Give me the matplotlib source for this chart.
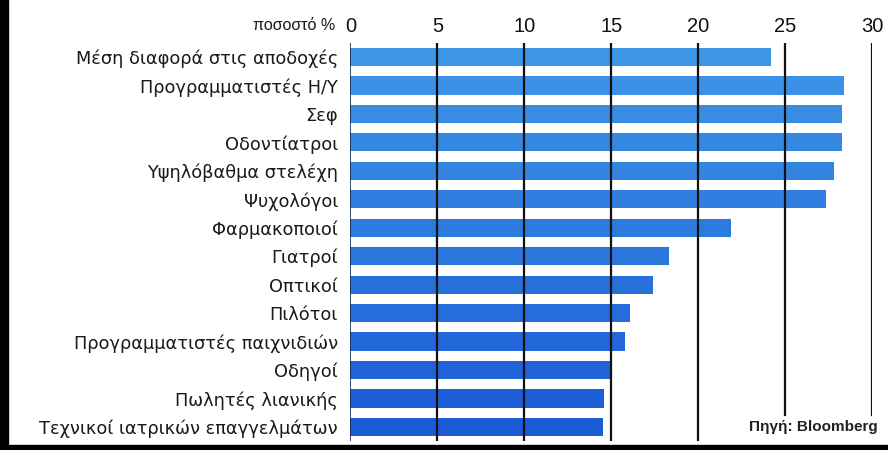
import numpy as np
import matplotlib
matplotlib.use("Agg")
import matplotlib.pyplot as plt
from matplotlib.patches import Rectangle
from matplotlib.colors import to_rgb

plt.rcParams['font.family'] = ['DejaVu Sans']

# Δεδομένα (ποσοστό %)
categories = ['Μέση διαφορά στις αποδοχές', 'Προγραμματιστές Η/Υ', 'Σεφ', 'Οδοντίατροι',
              'Υψηλόβαθμα στελέχη', 'Ψυχολόγοι', 'Φαρμακοποιοί', 'Γιατροί', 'Οπτικοί',
              'Πιλότοι', 'Προγραμματιστές παιχνιδιών', 'Οδηγοί', 'Πωλητές λιανικής',
              'Τεχνικοί ιατρικών επαγγελμάτων']
values = [24.2, 28.4, 28.25, 28.25, 27.8, 27.35, 21.9, 18.3, 17.4, 16.1, 15.8, 14.9, 14.6, 14.5]
ticks = [0, 5, 10, 15, 20, 25, 30]

fig = plt.figure(figsize=(8.88, 4.5), dpi=100)
ax = fig.add_axes([0.3947, 0.0196, 0.5873, 0.8853])

# χρώματα: από ανοιχτό μπλε (πάνω) σε σκούρο (κάτω)
c_top = np.array(to_rgb('#3d95e6'))
c_bot = np.array(to_rgb('#1b5bd6'))
n = len(values)
colors = [tuple(c_top + (c_bot - c_top) * i / (n - 1)) for i in range(n)]

y = np.arange(n)
ax.barh(y, values, height=0.64, color=colors, zorder=1)

ax.set_xlim(0, 30)
ax.set_ylim(n - 0.5, -0.5)

# κάθετες γραμμές πάνω από τις μπάρες
for t in ticks:
    if t == 0:
        ax.axvline(t, color='#1a2a55', lw=1.2, zorder=3)
    elif t < 25:
        ax.axvline(t, color='#111111', lw=1.6, zorder=3)
    else:
        ax.axvline(t, ymin=0.066, ymax=1, color='#111111', lw=1.6, zorder=3)

for s in ax.spines.values():
    s.set_visible(False)

ax.xaxis.tick_top()
ax.set_xticks(ticks)
ax.set_xticklabels([str(t) for t in ticks], fontsize=14.5, family='Liberation Sans')
ax.tick_params(axis='x', length=0, pad=5, colors='#111111')

ax.set_yticks(y)
ax.set_yticklabels(categories, fontsize=12.8, color='#1a1a1a')
ax.tick_params(axis='y', length=0, pad=9)

fig.text(0.378, 0.944, 'ποσοστό %', fontsize=11.5, ha='right', va='center',
         family='Liberation Sans', color='#1a1a1a')
fig.text(0.988, 0.051, 'Πηγή: Bloomberg', fontsize=11, ha='right', va='center',
         family='Liberation Sans', weight='bold', color='#222222')

# πλαίσιο
fig.add_artist(Rectangle((0.0, 0.0), 0.009, 1.0, transform=fig.transFigure,
                         color='black', zorder=5))
fig.add_artist(Rectangle((0.0, 0.0), 1.0, 0.011, transform=fig.transFigure,
                         color='black', zorder=5))

fig.savefig('out.png', dpi=100)
